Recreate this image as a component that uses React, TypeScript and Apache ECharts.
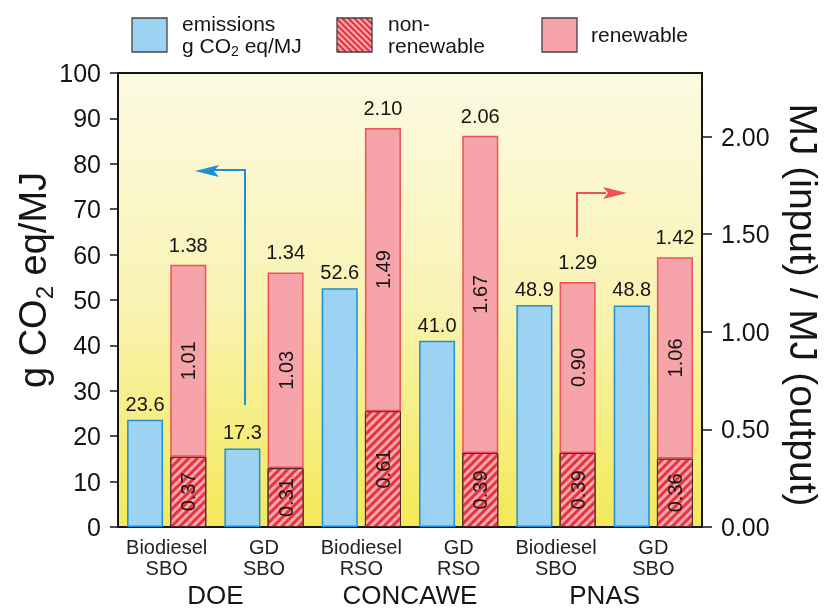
import React, { useEffect, useRef } from 'react';
import * as echarts from 'echarts';

const categories = ['Biodiesel\nSBO', 'GD\nSBO', 'Biodiesel\nRSO', 'GD\nRSO', 'Biodiesel\nSBO', 'GD\nSBO'];
const groups = ['DOE', 'CONCAWE', 'PNAS'];
const emissions = [23.6, 17.3, 52.6, 41.0, 48.9, 48.8];
const nonRenewable = [0.37, 0.31, 0.61, 0.39, 0.39, 0.36];
const renewable = [1.01, 1.03, 1.49, 1.67, 0.9, 1.06];
const rightTicks = [0, 0.5, 1, 1.5, 2];

const FONT = '"Liberation Sans", Arial, Helvetica, sans-serif';
const INK = '#151515';
const BLUE_FILL = '#9dd3f2';
const BLUE_EDGE = '#1f8fd3';
const PINK_FILL = '#f6a4aa';
const RED_EDGE = '#f0505a';
const HATCH = '#e6343f';

function hatchLines(x0: number, y0: number, w: number, h: number, p: number) {
  const els: any[] = [];
  for (let c = p / 2; c < w + h; c += p) {
    const u1 = Math.max(0, c - h);
    const u2 = Math.min(w, c);
    els.push({
      type: 'line',
      shape: { x1: x0 + u1, y1: y0 + h - (c - u1), x2: x0 + u2, y2: y0 + h - (c - u2) },
      style: { stroke: HATCH, lineWidth: 2.2 },
      silent: true,
    });
  }
  return els;
}

export default function App() {
  const ref = useRef<HTMLDivElement>(null);
  useEffect(() => {
    if (!ref.current) return;
    const chart = echarts.init(ref.current, undefined, { renderer: 'svg' });
    const legendText = (text: string, x: number, y: number) => ({
      type: 'text',
      x,
      y,
      style: { text, fontSize: 21, fontFamily: FONT, fill: INK, align: 'left', verticalAlign: 'middle' },
    });
    const option: any = {
      animation: false,
      textStyle: { fontFamily: FONT },
      grid: {
        left: 118,
        right: 123,
        top: 73,
        bottom: 82,
        show: true,
        backgroundColor: new echarts.graphic.LinearGradient(0, 0, 0, 1, [
          { offset: 0, color: '#fcfae2' },
          { offset: 0.5, color: '#f9f3b4' },
          { offset: 1, color: '#f3e958' },
        ]),
        borderColor: INK,
        borderWidth: 2,
      },
      xAxis: [
        {
          type: 'category',
          data: categories,
          position: 'bottom',
          axisLine: { lineStyle: { color: INK, width: 2 } },
          axisTick: { length: 10, lineStyle: { color: INK, width: 1.5 } },
          axisLabel: { interval: 0, fontSize: 20, color: '#222', lineHeight: 21, margin: 9, fontFamily: FONT },
        },
        {
          type: 'category',
          data: groups,
          position: 'bottom',
          axisLine: { show: false },
          axisTick: { length: 15, lineStyle: { color: INK, width: 1.5 } },
          axisLabel: { interval: 0, fontSize: 26, lineHeight: 20, color: INK, margin: 58, fontFamily: FONT },
        },
      ],
      yAxis: [
        {
          type: 'value',
          min: 0,
          max: 100,
          interval: 10,
          position: 'left',
          axisLine: { show: true, lineStyle: { color: INK, width: 2 } },
          axisTick: { show: true, length: 8, lineStyle: { color: INK, width: 1.5 } },
          axisLabel: { fontSize: 25, color: INK, margin: 17, fontFamily: FONT },
          splitLine: { show: false },
        },
        {
          type: 'value',
          min: 0,
          max: 2.326,
          interval: 0.5,
          position: 'right',
          axisLine: { show: true, lineStyle: { color: INK, width: 2 } },
          axisTick: { show: true, length: 10, customValues: rightTicks, lineStyle: { color: INK, width: 1.5 } },
          axisLabel: {
            fontSize: 25,
            color: INK,
            margin: 19,
            fontFamily: FONT,
            customValues: rightTicks,
            formatter: (v: number) => v.toFixed(2),
          },
          splitLine: { show: false },
        },
        {
          type: 'value',
          min: 0,
          max: 2.39,
          position: 'right',
          show: false,
          splitLine: { show: false },
        },
      ],
      series: [
        {
          name: 'emissions',
          type: 'bar',
          xAxisIndex: 0,
          yAxisIndex: 0,
          data: emissions,
          barWidth: 36,
          barGap: '20%',
          itemStyle: { color: BLUE_FILL, borderColor: BLUE_EDGE, borderWidth: 1.5 },
          label: {
            show: true,
            position: 'top',
            distance: 6,
            fontSize: 20,
            color: INK,
            fontFamily: FONT,
            formatter: (p: any) => Number(p.value).toFixed(1),
          },
        },
        {
          name: 'non-renewable',
          type: 'bar',
          xAxisIndex: 0,
          yAxisIndex: 2,
          stack: 'mj',
          data: nonRenewable,
          barWidth: 36,
          itemStyle: {
            color: '#f7a7ad',
            borderColor: '#4a2828',
            borderWidth: 1,
            decal: {
              symbol: 'rect',
              symbolSize: 1,
              color: HATCH,
              dashArrayX: [1, 0],
              dashArrayY: [2.5, 2.5],
              rotation: -Math.PI / 4,
            },
          },
          label: {
            show: true,
            position: 'inside',
            rotate: 90,
            fontSize: 20,
            color: INK,
            fontFamily: FONT,
            formatter: (p: any) => Number(p.value).toFixed(2),
          },
        },
        {
          name: 'renewable',
          type: 'bar',
          xAxisIndex: 0,
          yAxisIndex: 2,
          stack: 'mj',
          data: renewable,
          barWidth: 36,
          itemStyle: { color: PINK_FILL, borderColor: RED_EDGE, borderWidth: 1.5 },
          label: {
            show: true,
            position: 'inside',
            rotate: 90,
            fontSize: 20,
            color: INK,
            fontFamily: FONT,
            formatter: (p: any) => Number(p.value).toFixed(2),
          },
        },
        {
          name: 'total',
          type: 'bar',
          xAxisIndex: 0,
          yAxisIndex: 2,
          stack: 'mj',
          data: renewable.map(() => 0),
          barWidth: 36,
          itemStyle: { color: 'rgba(0,0,0,0)', borderWidth: 0 },
          label: {
            show: true,
            position: 'top',
            distance: 10,
            fontSize: 20,
            color: INK,
            fontFamily: FONT,
            formatter: (p: any) => (nonRenewable[p.dataIndex] + renewable[p.dataIndex]).toFixed(2),
          },
        },
      ],
      graphic: [
        {
          type: 'text',
          x: 33,
          y: 280,
          rotation: Math.PI / 2,
          style: {
            text: '{a|g CO}{s|2}{a| eq/MJ}',
            align: 'center',
            verticalAlign: 'middle',
            rich: {
              a: { fontSize: 38, fontFamily: FONT, fill: INK, lineHeight: 46, verticalAlign: 'middle' },
              s: { fontSize: 24, fontFamily: FONT, fill: INK, lineHeight: 46, verticalAlign: 'bottom' },
            },
          },
        },
        {
          type: 'text',
          x: 803,
          y: 305,
          rotation: -Math.PI / 2,
          style: {
            text: 'MJ (input) / MJ (output)',
            fontSize: 39,
            fontFamily: FONT,
            fill: INK,
            align: 'center',
            verticalAlign: 'middle',
          },
        },
        {
          type: 'polyline',
          shape: { points: [[245, 405], [245, 170], [214, 170]] },
          style: { stroke: BLUE_EDGE, lineWidth: 2, fill: null },
        },
        {
          type: 'polygon',
          shape: { points: [[195, 171], [219, 165], [214, 171], [219, 177]] },
          style: { fill: BLUE_EDGE },
        },
        {
          type: 'polyline',
          shape: { points: [[577, 237], [577, 193], [606, 193]] },
          style: { stroke: RED_EDGE, lineWidth: 2, fill: null },
        },
        {
          type: 'polygon',
          shape: { points: [[627, 193], [603, 187], [608, 193], [603, 199]] },
          style: { fill: RED_EDGE },
        },
        {
          type: 'rect',
          shape: { x: 132, y: 18, width: 35, height: 34 },
          style: { fill: BLUE_FILL, stroke: '#444', lineWidth: 1.3 },
        },
        legendText('emissions', 182, 23),
        {
          type: 'text',
          x: 182,
          y: 45,
          style: {
            text: '{a|g CO}{s|2}{a| eq/MJ}',
            align: 'left',
            verticalAlign: 'middle',
            rich: {
              a: { fontSize: 21, fontFamily: FONT, fill: INK, lineHeight: 26, verticalAlign: 'middle' },
              s: { fontSize: 14, fontFamily: FONT, fill: INK, lineHeight: 26, verticalAlign: 'bottom' },
            },
          },
        },
        {
          type: 'rect',
          shape: { x: 337, y: 18, width: 35, height: 34 },
          style: { fill: '#f7a7ad', stroke: 'none' },
        },
        ...hatchLines(337, 18, 35, 34, 6),
        {
          type: 'rect',
          shape: { x: 337, y: 18, width: 35, height: 34 },
          style: { fill: 'none', stroke: '#444', lineWidth: 1.3 },
        },
        legendText('non-', 388, 23),
        legendText('renewable', 388, 45),
        {
          type: 'rect',
          shape: { x: 542, y: 18, width: 35, height: 34 },
          style: { fill: PINK_FILL, stroke: '#444', lineWidth: 1.3 },
        },
        legendText('renewable', 591, 34),
      ],
    };
    chart.setOption(option);
    return () => chart.dispose();
  }, []);
  return <div ref={ref} style={{ position: 'fixed', left: 0, top: 0, width: 825, height: 609 }} />;
}
